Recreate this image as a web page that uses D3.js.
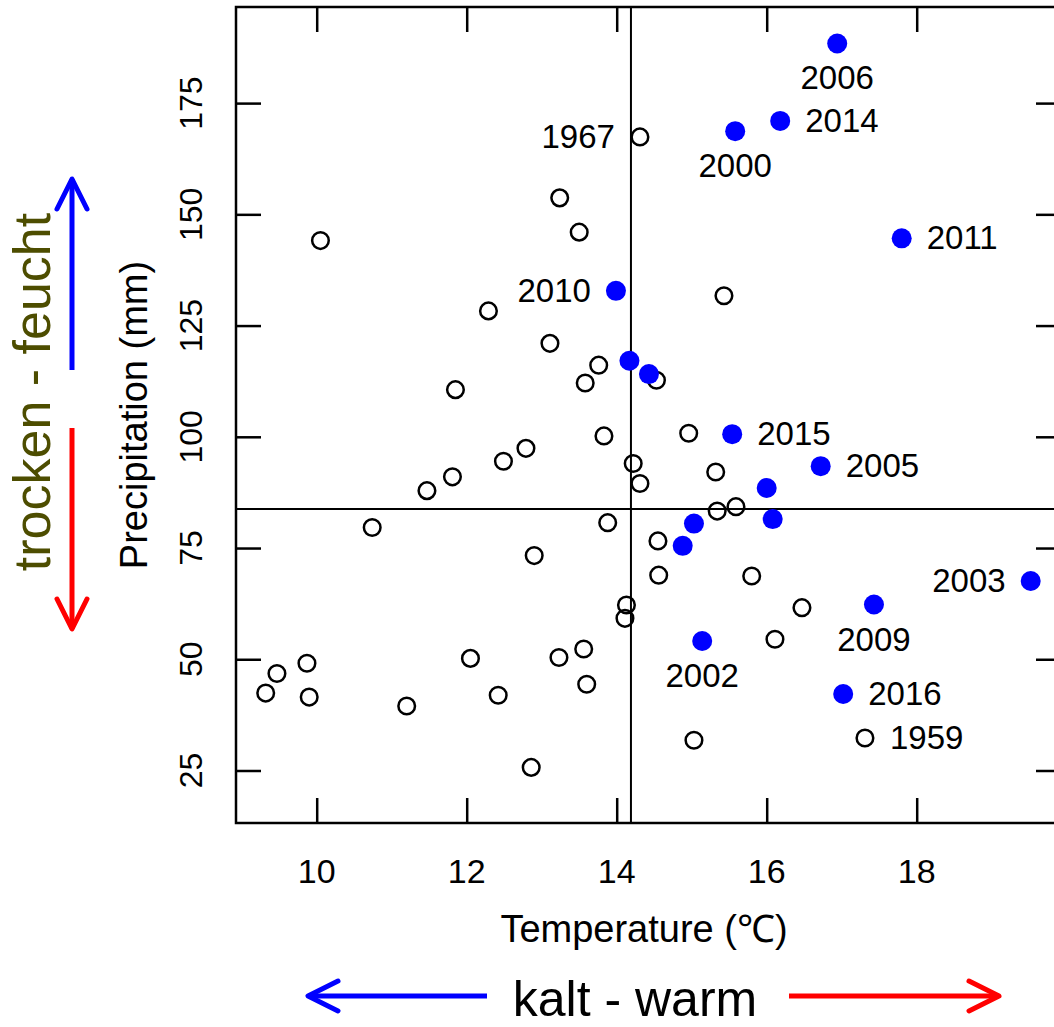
<!DOCTYPE html>
<html>
<head>
<meta charset="utf-8">
<script src="https://cdn.jsdelivr.net/npm/d3@7"></script>
<style>
  body { margin: 0; background: #fff; }
  svg { display: block; font-family: "Liberation Sans", Arial, sans-serif; }
</style>
</head>
<body>
<svg id="chart" width="1054" height="1027"></svg>
<script>
// open circles (other years)
const openTemp = [14.31, 13.24, 13.50, 10.05, 12.29, 15.43, 13.11, 13.76, 13.58, 11.85,
  13.83, 12.79, 12.49, 11.81, 11.47, 14.22, 14.31, 10.74, 13.88, 12.90,
  14.53, 14.96, 15.32, 15.34, 15.59, 14.55, 14.56, 15.80, 14.13, 14.11,
  16.47, 16.11, 15.03, 17.31, 13.56, 13.23, 12.05, 13.60, 12.42, 11.20,
  9.87, 9.47, 9.32, 9.90, 12.86];
const openPrecip = [167.4, 153.7, 146.0, 144.1, 128.3, 131.7, 121.0, 116.1, 112.1, 110.6,
  100.2, 97.4, 94.5, 91.0, 87.9, 94.0, 89.5, 79.6, 80.7, 73.3,
  112.7, 100.8, 92.1, 83.3, 84.3, 76.6, 68.9, 68.7, 62.2, 59.2,
  61.6, 54.5, 31.8, 32.3, 52.3, 50.4, 50.2, 44.4, 41.9, 39.5,
  49.1, 46.8, 42.4, 41.5, 25.7];
const openYear = ['1967', '', '', '', '', '', '', '', '', '',
  '', '', '', '', '', '', '', '', '', '',
  '', '', '', '', '', '', '', '', '', '',
  '', '', '', '1959', '', '', '', '', '', '',
  '', '', '', '', ''];

// filled blue circles (recent years)
const blueTemp = [16.94, 16.18, 15.58, 17.80, 13.99, 14.17, 14.43, 15.54, 16.72, 16.00,
  16.08, 15.03, 14.88, 19.52, 17.43, 15.14, 17.02];
const bluePrecip = [188.4, 171.0, 168.7, 144.6, 132.8, 117.1, 114.1, 100.6, 93.4, 88.5,
  81.5, 80.5, 75.5, 67.6, 62.3, 54.1, 42.2];
const blueYear = ['2006', '2014', '2000', '2011', '2010', '', '', '2015', '2005', '',
  '', '', '', '2003', '2009', '2002', '2016'];

// where each year label sits next to its point
const labelSide = {
  '2006': 'below', '2000': 'below', '2009': 'below', '2002': 'below',
  '2014': 'right', '2011': 'right', '2015': 'right', '2005': 'right', '2016': 'right', '1959': 'right',
  '1967': 'left', '2010': 'left', '2003': 'left'
};

const xTicks = [10, 12, 14, 16, 18];
const yTicks = [25, 50, 75, 100, 125, 150, 175];
const refTemp = 14.19;
const refPrecip = 83.75;

const svg = d3.select('#chart');
const box = { left: 236, right: 1061, top: 7, bottom: 823 };

const x = d3.scaleLinear().domain([8.924, 19.924]).range([box.left, box.right]);
const y = d3.scaleLinear().domain([13.2, 196.6]).range([box.bottom, box.top]);

// reference lines
svg.append('line')
  .attr('x1', x(refTemp)).attr('x2', x(refTemp))
  .attr('y1', box.top).attr('y2', box.bottom)
  .attr('stroke', '#000').attr('stroke-width', 2);
svg.append('line')
  .attr('x1', box.left).attr('x2', box.right)
  .attr('y1', y(refPrecip)).attr('y2', y(refPrecip))
  .attr('stroke', '#000').attr('stroke-width', 2);

// inward ticks on all four sides
const tickLen = 25;
const axisBottom = d3.axisBottom(x).tickValues(xTicks).tickSizeInner(-tickLen).tickSizeOuter(0).tickFormat('');
const axisTop = d3.axisTop(x).tickValues(xTicks).tickSizeInner(-tickLen).tickSizeOuter(0).tickFormat('');
const axisLeft = d3.axisLeft(y).tickValues(yTicks).tickSizeInner(-tickLen).tickSizeOuter(0).tickFormat('');
const axisRight = d3.axisRight(y).tickValues(yTicks).tickSizeInner(-tickLen).tickSizeOuter(0).tickFormat('');

[[axisBottom, `translate(0,${box.bottom})`], [axisTop, `translate(0,${box.top})`],
 [axisLeft, `translate(${box.left},0)`], [axisRight, `translate(${box.right},0)`]]
  .forEach(([ax, tr]) => {
    const g = svg.append('g').attr('transform', tr).call(ax);
    g.select('.domain').remove();
    g.selectAll('.tick line').attr('stroke', '#000').attr('stroke-width', 2.5);
  });

svg.append('rect')
  .attr('x', box.left).attr('y', box.top)
  .attr('width', box.right - box.left).attr('height', box.bottom - box.top)
  .attr('fill', 'none').attr('stroke', '#000').attr('stroke-width', 2.5);

// tick labels
svg.append('g').selectAll('text')
  .data(xTicks)
  .join('text')
  .attr('x', (d) => x(d))
  .attr('y', 883)
  .attr('text-anchor', 'middle')
  .attr('font-size', 34)
  .text((d) => d);

svg.append('g').selectAll('text')
  .data(yTicks)
  .join('text')
  .attr('transform', (d) => `translate(202,${y(d)}) rotate(-90)`)
  .attr('text-anchor', 'middle')
  .attr('font-size', 32)
  .text((d) => d);

// axis titles
svg.append('text')
  .attr('x', 644).attr('y', 942)
  .attr('text-anchor', 'middle')
  .attr('font-size', 38)
  .text('Temperature (℃)');

svg.append('text')
  .attr('transform', `translate(147,${(box.top + box.bottom) / 2}) rotate(-90)`)
  .attr('text-anchor', 'middle')
  .attr('font-size', 38)
  .text('Precipitation (mm)');

// points
const openData = openTemp.map((t, i) => ({ t, p: openPrecip[i], year: openYear[i] }));
const blueData = blueTemp.map((t, i) => ({ t, p: bluePrecip[i], year: blueYear[i] }));

svg.append('g').selectAll('circle')
  .data(openData)
  .join('circle')
  .attr('cx', (d) => x(d.t))
  .attr('cy', (d) => y(d.p))
  .attr('r', 8.3)
  .attr('fill', 'none')
  .attr('stroke', '#000')
  .attr('stroke-width', 2.5);

svg.append('g').selectAll('circle')
  .data(blueData)
  .join('circle')
  .attr('cx', (d) => x(d.t))
  .attr('cy', (d) => y(d.p))
  .attr('r', 10)
  .attr('fill', '#0000ff');

// year labels
const labelled = openData.concat(blueData).filter((d) => d.year);
svg.append('g').selectAll('text')
  .data(labelled)
  .join('text')
  .attr('x', (d) => {
    const side = labelSide[d.year];
    if (side === 'right') return x(d.t) + 25;
    if (side === 'left') return x(d.t) - 25;
    return x(d.t);
  })
  .attr('y', (d) => labelSide[d.year] === 'below' ? y(d.p) + 46 : y(d.p) + 11)
  .attr('text-anchor', (d) => {
    const side = labelSide[d.year];
    return side === 'right' ? 'start' : side === 'left' ? 'end' : 'middle';
  })
  .attr('font-size', 33)
  .text((d) => d.year);

// decorations: direction arrows
function arrow(x1, y1, x2, y2, color) {
  const ang = Math.atan2(y2 - y1, x2 - x1);
  const headLen = 30;
  const headHalf = 15;
  const bx = x2 - headLen * Math.cos(ang);
  const by = y2 - headLen * Math.sin(ang);
  const nx = -Math.sin(ang) * headHalf;
  const ny = Math.cos(ang) * headHalf;
  const g = svg.append('g')
    .attr('stroke', color)
    .attr('stroke-width', 5)
    .attr('stroke-linecap', 'round')
    .attr('stroke-linejoin', 'round')
    .attr('fill', 'none');
  g.append('line').attr('x1', x1).attr('y1', y1).attr('x2', x2).attr('y2', y2).attr('stroke-linecap', 'butt');
  g.append('path').attr('d', `M${bx + nx},${by + ny}L${x2},${y2}L${bx - nx},${by - ny}`);
}

arrow(72, 370, 72, 179, '#0000ff');
arrow(72, 428, 72, 629, '#ff0000');
arrow(487, 996, 308, 996, '#0000ff');
arrow(789, 996, 999, 996, '#ff0000');

svg.append('text')
  .attr('transform', 'translate(50,392) rotate(-90)')
  .attr('text-anchor', 'middle')
  .attr('font-size', 52)
  .attr('fill', '#4d4d00')
  .text('trocken - feucht');

svg.append('text')
  .attr('x', 635).attr('y', 1016)
  .attr('text-anchor', 'middle')
  .attr('font-size', 50)
  .text('kalt - warm');
</script>
</body>
</html>
